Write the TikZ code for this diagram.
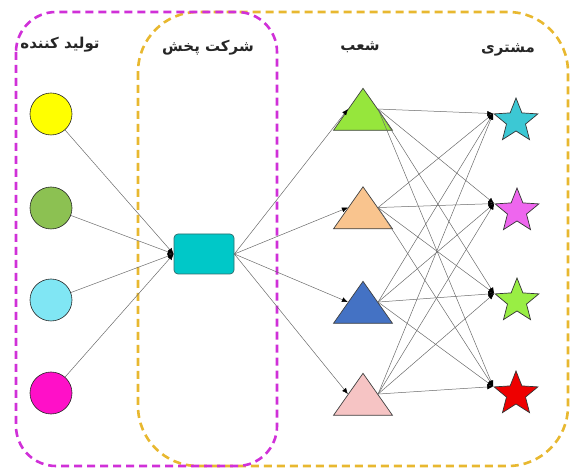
\documentclass[tikz,border=0pt]{standalone}
\usepackage{fontspec}
\newfontfamily\arabicfont[Script=Arabic]{DejaVu Sans Bold}
\TeXXeTstate=1
\usetikzlibrary{shapes.geometric,arrows.meta}
\definecolor{cyel}{HTML}{FFFF00}
\definecolor{cgrn}{HTML}{8CC152}
\definecolor{ccya}{HTML}{80E6F4}
\definecolor{cmag}{HTML}{FF10C8}
\definecolor{rfill}{HTML}{00C8C8}
\definecolor{rdraw}{HTML}{2E6B6B}
\definecolor{tgrn}{HTML}{96E63C}
\definecolor{tora}{HTML}{F9C48E}
\definecolor{tblu}{HTML}{4472C4}
\definecolor{tpnk}{HTML}{F6C4C4}
\definecolor{scya}{HTML}{3CC8D4}
\definecolor{smag}{HTML}{EE66EE}
\definecolor{sgrn}{HTML}{99EE44}
\definecolor{sred}{HTML}{EE0000}
\definecolor{boxmag}{HTML}{D030D8}
\definecolor{boxora}{HTML}{E8B830}
\definecolor{lin}{HTML}{6A6A6A}
\begin{document}
\begin{tikzpicture}[x=1pt,y=-1pt,
  circ/.style={circle, draw=black!85, line width=0.6pt, minimum size=42pt, inner sep=0pt},
  tri/.style={isosceles triangle, isosceles triangle stretches, shape border rotate=90,
    minimum width=59pt, minimum height=42pt, inner sep=0pt, draw=black!75, line width=0.7pt},
  strn/.style={star, star points=5, star point ratio=2.3, minimum size=46pt, inner sep=0pt,
    draw=black!80, line width=0.7pt},
  boxx/.style={rounded corners=4pt, minimum width=60pt, minimum height=40pt, inner sep=0pt,
    fill=rfill, draw=rdraw, line width=0.7pt},
  lbl/.style={font=\arabicfont\fontsize{15}{17}\selectfont, inner sep=0pt, text=black!85},
  con/.style={draw=lin, line width=0.5pt, -{Latex[length=6pt,width=5pt,color=black]}},
  grp/.style={dashed, line width=2.6pt, dash pattern=on 8pt off 5pt}
]
\useasboundingbox (0,0) rectangle (571,470);
% group frames
\draw[grp, draw=boxora, rounded corners=60pt] (138,12) rectangle (568,466);
\draw[grp, draw=boxmag, rounded corners=40pt] (16,12) rectangle (277,466);
% labels
\node[lbl] (l1) at (60,45) {\beginR تولید کننده\endR};
\node[lbl] (l2) at (208,48) {\beginR شرکت پخش\endR};
\node[lbl] (l3) at (360,47) {\beginR شعب\endR};
\node[lbl] (l4) at (508,50) {\beginR مشتری\endR};
% producers
\node[circ, fill=cyel] (c1) at (51,114) {};
\node[circ, fill=cgrn] (c2) at (51,208) {};
\node[circ, fill=ccya] (c3) at (51,300) {};
\node[circ, fill=cmag] (c4) at (51,393) {};
% distributor
\node[boxx] (r) at (204,254) {};
% branches
\node[tri, fill=tgrn] (t1) at (363,115) {};
\node[tri, fill=tora] (t2) at (363,213.5) {};
\node[tri, fill=tblu] (t3) at (363,308) {};
\node[tri, fill=tpnk] (t4) at (363,400) {};
% customers
\node[strn, fill=scya] (s1) at (516,121) {};
\node[strn, fill=smag] (s2) at (517,211) {};
\node[strn, fill=sgrn] (s3) at (517,301) {};
\node[strn, fill=sred] (s4) at (516,394) {};
% connectors
\foreach \c in {c1,c2,c3,c4} \draw[con] (\c) -- (r.west);
\foreach \t in {t1,t2,t3,t4} \draw[con] (r.east) -- (\t.left side);
\foreach \t in {t1,t2,t3,t4}
  \foreach \s in {s1,s2,s3,s4}
    \draw[con] (\t.right side) -- (\s.outer point 2);
\end{tikzpicture}
\end{document}
